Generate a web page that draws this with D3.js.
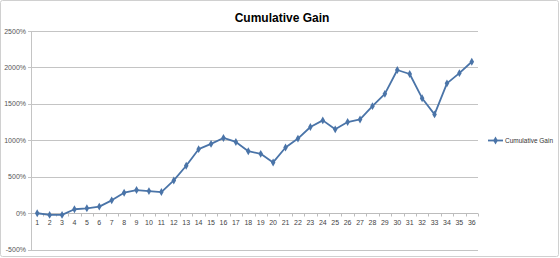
<!DOCTYPE html>
<html><head><meta charset="utf-8">
<script src="https://cdn.jsdelivr.net/npm/d3@7"></script>
<style>
html,body{margin:0;padding:0;background:#fff;}
svg{display:block;}
</style></head>
<body>
<svg id="c" width="560" height="258"></svg>
<script>
const categories = d3.range(1, 37).map(String);
const seriesName = "Cumulative Gain";
const values = [0, -23, -23, 55, 68, 91, 177, 282, 318, 304, 291, 450, 651, 879, 951, 1033, 978, 851, 815, 697, 902, 1024, 1183, 1274, 1151, 1251, 1287, 1469, 1638, 1965, 1910, 1578, 1356, 1782, 1922, 2078];
const yTicks = [-500, 0, 500, 1000, 1500, 2000, 2500];
const title = "Cumulative Gain";

const svg = d3.select("#c");
const W = 560, H = 258;
const x0 = 31, x1 = 478, yTop = 31, yBot = 249.7;
const font = "'Liberation Sans', Arial, sans-serif";

svg.append("rect").attr("x", 0.5).attr("y", 0.5).attr("width", W - 2).attr("height", H - 2)
  .attr("rx", 2).attr("fill", "#fff").attr("stroke", "#d0d0d0");

const x = d3.scaleBand().domain(categories).range([x0, x1]);
const y = d3.scaleLinear().domain([-500, 2500]).range([yBot, yTop]);

// gridlines
svg.append("g").selectAll("line").data(yTicks).join("line")
  .attr("x1", x0 - 3).attr("x2", x1)
  .attr("y1", d => Math.round(y(d)) + 0.5).attr("y2", d => Math.round(y(d)) + 0.5)
  .attr("stroke", "#c4c4c4").attr("stroke-width", 1);

// y axis line
svg.append("line").attr("x1", x0 + 0.5).attr("x2", x0 + 0.5)
  .attr("y1", yTop).attr("y2", yBot + 0.5).attr("stroke", "#c4c4c4");

// y labels
svg.append("g").selectAll("text").data(yTicks).join("text")
  .attr("x", x0 - 5).attr("y", d => y(d) + 2.5)
  .attr("text-anchor", "end").attr("font-family", font).attr("font-size", 7)
  .attr("fill", "#555").text(d => d + "%");

// x axis at 0
const y0 = Math.round(y(0)) + 0.5;
svg.append("line").attr("x1", x0).attr("x2", x1).attr("y1", y0).attr("y2", y0)
  .attr("stroke", "#bcbcbc");
const bounds = categories.map(c => x(c)).concat([x1]);
svg.append("g").selectAll("line").data(bounds).join("line")
  .attr("x1", d => Math.round(d) + 0.5).attr("x2", d => Math.round(d) + 0.5)
  .attr("y1", y0).attr("y2", y0 + 3).attr("stroke", "#bcbcbc");
svg.append("g").selectAll("text").data(categories).join("text")
  .attr("x", d => x(d) + x.bandwidth() / 2).attr("y", y0 + 11)
  .attr("text-anchor", "middle").attr("font-family", font).attr("font-size", 7)
  .attr("fill", "#444").text(d => d);

// title
svg.append("text").attr("x", 282).attr("y", 22).attr("text-anchor", "middle")
  .attr("font-family", font).attr("font-weight", "bold").attr("font-size", 12)
  .attr("fill", "#000").text(title);

// line
const cx = (d, i) => x(categories[i]) + x.bandwidth() / 2;
const line = d3.line().x((d, i) => cx(d, i)).y(d => y(d));
const color = "#4a74a8";
svg.append("path").datum(values).attr("d", line).attr("fill", "none")
  .attr("stroke", color).attr("stroke-width", 1.8).attr("stroke-linejoin", "round");
const diamond = d3.symbol().type(d3.symbolDiamond).size(18);
svg.append("g").selectAll("path").data(values).join("path")
  .attr("transform", (d, i) => `translate(${cx(d, i)},${y(d)})`)
  .attr("d", diamond).attr("fill", color);

// legend
const ly = 140.5;
svg.append("line").attr("x1", 488).attr("x2", 503).attr("y1", ly).attr("y2", ly)
  .attr("stroke", color).attr("stroke-width", 1.8);
svg.append("path").attr("transform", `translate(495.5,${ly})`).attr("d", diamond).attr("fill", color);
svg.append("text").attr("x", 505).attr("y", ly + 2.5).attr("font-family", font)
  .attr("font-size", 6.5).attr("fill", "#333").text(seriesName);
</script>
</body></html>
